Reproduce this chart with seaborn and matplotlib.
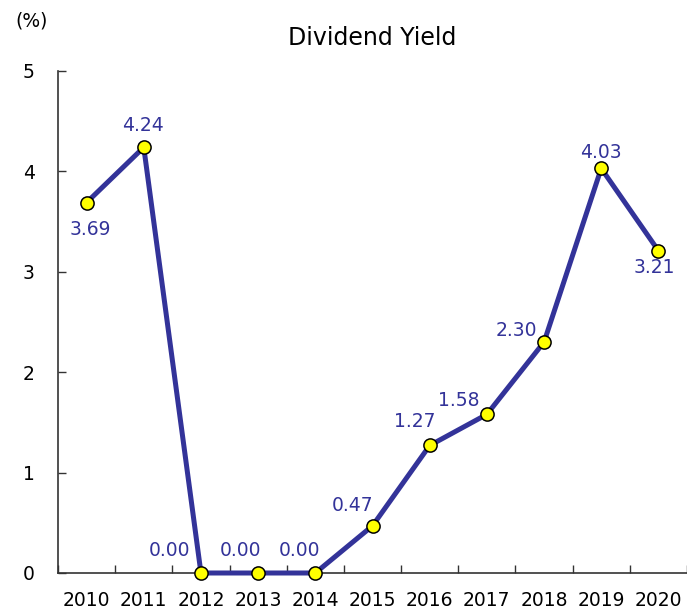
import numpy as np
import pandas as pd
import seaborn as sns
import matplotlib.pyplot as plt

# --- data ---
years = ['2010', '2011', '2012', '2013', '2014', '2015', '2016', '2017', '2018', '2019', '2020']
dividend_yield = [3.69, 4.24, 0.00, 0.00, 0.00, 0.47, 1.27, 1.58, 2.30, 4.03, 3.21]

# label offsets in pixels (dx, dy) relative to each point
label_offsets = [(4, -27), (-1, 22), (-31, 23), (-18, 22), (-16, 23), (-20, 20),
                 (-15, 24), (-28, 14), (-28, 12), (0, 16), (-4, -17)]

df = pd.DataFrame({'Year': years, 'Yield': dividend_yield})

sns.set_style('ticks')
plt.rcParams['font.family'] = ['DejaVu Sans']

line_color = '#333399'

fig = plt.figure(figsize=(6.87, 6.12), dpi=100)
ax = fig.add_axes([58 / 687, 39 / 612, 1 - 58 / 687, (573 - 71) / 612])

sns.lineplot(data=df, x='Year', y='Yield', ax=ax, color=line_color, linewidth=3.6,
             marker='o', markersize=9.5, markerfacecolor='#ffff00',
             markeredgecolor='black', markeredgewidth=1.1, clip_on=False, zorder=3)

for i, (yr, val) in enumerate(zip(years, dividend_yield)):
    dx, dy = label_offsets[i]
    ax.annotate(f'{val:.2f}', xy=(i, val), xytext=(dx, dy), textcoords='offset pixels',
                ha='center', va='center', color=line_color, fontsize=13.5)

ax.set_xlim(-0.5, len(years) - 0.5)
ax.set_ylim(0, 5)
ax.set_yticks(range(0, 6))
ax.set_xticks(np.arange(-0.5, len(years), 1), minor=True)
ax.tick_params(axis='x', which='major', length=0, pad=13, labelsize=13.5, colors='black')
ax.tick_params(axis='x', which='minor', direction='in', length=6, width=1, color='#333333')
ax.tick_params(axis='y', direction='in', length=6, width=1, color='#333333',
               pad=21, labelsize=13.5, labelcolor='black')
for lab in ax.get_yticklabels():
    lab.set_horizontalalignment('center')

ax.set_xlabel('')
ax.set_ylabel('')
sns.despine(ax=ax)
ax.spines['left'].set_color('#333333')
ax.spines['bottom'].set_color('#333333')
ax.spines['left'].set_linewidth(1.2)
ax.spines['bottom'].set_linewidth(1.2)

ax.set_title('Dividend Yield', fontsize=17, pad=19, color='black')
fig.text(0.022, 0.966, '(%)', fontsize=13.5, ha='left', va='center', color='black')

fig.savefig('out.png', dpi=100)
